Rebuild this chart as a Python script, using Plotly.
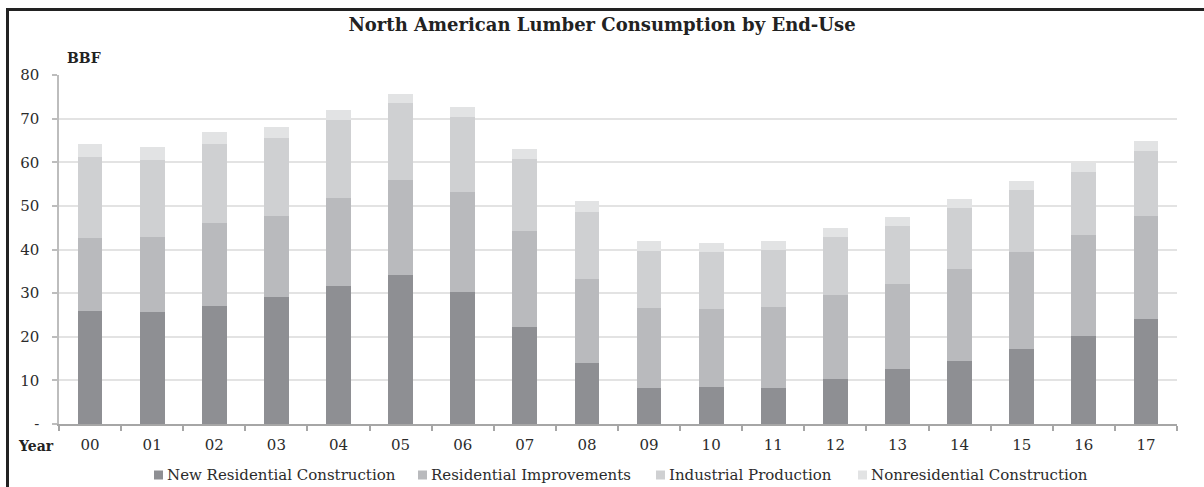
import plotly.graph_objects as go

# Lumber consumption by end-use, billion board feet (BBF)
years = ["00", "01", "02", "03", "04", "05", "06", "07", "08",
         "09", "10", "11", "12", "13", "14", "15", "16", "17"]
new_residential = [26.0, 25.7, 27.1, 29.0, 31.7, 34.2, 30.2, 22.2, 14.0,
                   8.2, 8.5, 8.2, 10.3, 12.6, 14.4, 17.2, 20.2, 24.0]
residential_improvements = [16.7, 17.2, 19.0, 18.7, 20.1, 21.7, 22.9, 22.0, 19.2,
                            18.4, 17.8, 18.6, 19.2, 19.5, 21.1, 22.2, 23.1, 23.6]
industrial_production = [18.5, 17.6, 18.1, 17.9, 17.9, 17.6, 17.2, 16.5, 15.3,
                         13.0, 13.1, 13.0, 13.3, 13.2, 14.0, 14.2, 14.4, 14.9]
nonresidential = [3.0, 3.0, 2.7, 2.5, 2.3, 2.1, 2.3, 2.3, 2.6,
                  2.3, 2.1, 2.1, 2.1, 2.1, 2.0, 2.0, 2.1, 2.3]

y_tickvals = [0, 10, 20, 30, 40, 50, 60, 70, 80]
y_ticktext = ["-", "10", "20", "30", "40", "50", "60", "70", "80"]

series_names = ["New Residential Construction", "Residential Improvements",
                "Industrial Production", "Nonresidential Construction"]
series_values = [new_residential, residential_improvements,
                 industrial_production, nonresidential]
series_colors = ["#8e8f93", "#b9babd", "#cfd0d2", "#e2e3e4"]

FONT = "DejaVu Serif"
TEXT = "#222222"
FS = 15

W, H = 1204, 487
ML, MR, MT, MB = 59, 27, 75, 63
pw, ph = W - ML - MR, H - MT - MB


def px_x(p):
    return (p - ML) / pw


def px_y(p):
    return (H - MB - p) / ph


fig = go.Figure()
for name, vals, color in zip(series_names, series_values, series_colors):
    fig.add_trace(go.Bar(
        x=years, y=vals, name=name, showlegend=False,
        marker=dict(color=color, line=dict(width=0)),
    ))

# Legend row under the axis: a small swatch followed by the series name
legend_left = [154, 418, 656, 858]
legend_mid = 475
shapes = []
annotations = []
for name, color, left in zip(series_names, series_colors, legend_left):
    shapes.append(dict(
        type="rect", xref="paper", yref="paper",
        x0=px_x(left), x1=px_x(left + 9),
        y0=px_y(legend_mid - 4.5), y1=px_y(legend_mid + 4.5),
        fillcolor=color, line=dict(width=0),
    ))
    annotations.append(dict(
        text=name, xref="paper", yref="paper",
        x=px_x(left + 11), y=px_y(legend_mid),
        xanchor="left", yanchor="middle", showarrow=False,
        font=dict(family=FONT, size=FS, color="#2b2b2b"),
    ))

annotations += [
    dict(text="<b>BBF</b>", xref="paper", yref="paper",
         x=0, y=1, xanchor="left", yanchor="middle",
         xshift=6, yshift=17, showarrow=False,
         font=dict(family=FONT, size=14, color=TEXT)),
    dict(text="<b>Year</b>", xref="paper", yref="paper",
         x=0, y=0, xanchor="right", yanchor="middle",
         xshift=-3, yshift=-22, showarrow=False,
         font=dict(family=FONT, size=14, color=TEXT)),
]

# Frame: top rule and left rule
shapes += [
    dict(type="line", xref="paper", yref="paper",
         x0=px_x(7.5), x1=px_x(W + 2), y0=px_y(9.5), y1=px_y(9.5),
         line=dict(color="#222222", width=3)),
    dict(type="line", xref="paper", yref="paper",
         x0=px_x(7.5), x1=px_x(7.5), y0=px_y(8), y1=px_y(H + 2),
         line=dict(color="#222222", width=3)),
]

fig.update_layout(
    width=W, height=H,
    margin=dict(l=ML, r=MR, t=MT, b=MB, autoexpand=False),
    barmode="stack",
    bargap=0.6,
    showlegend=False,
    paper_bgcolor="white",
    plot_bgcolor="white",
    font=dict(family=FONT, size=FS, color=TEXT),
    title=dict(
        text="<b>North American Lumber Consumption by End-Use</b>",
        font=dict(family=FONT, size=18, color=TEXT),
        x=0.5, xanchor="center", xref="container",
        y=1 - 25 / H, yanchor="middle", yref="container",
    ),
    xaxis=dict(
        type="category",
        showline=True, linecolor="#a6a6a6", linewidth=1.5,
        ticks="outside", tickson="boundaries", ticklen=5,
        tickcolor="#a6a6a6", tickwidth=1.5,
        showgrid=False,
        ticklabelstandoff=6,
        tickfont=dict(family=FONT, size=FS, color="#2b2b2b"),
    ),
    yaxis=dict(
        range=[0, 80],
        tickvals=y_tickvals, ticktext=y_ticktext,
        showline=True, linecolor="#bdbdbd", linewidth=1.5,
        ticks="outside", ticklen=5, tickcolor="#bdbdbd", tickwidth=1.5,
        showgrid=True, gridcolor="#e3e3e3", gridwidth=1.5,
        zeroline=False,
        ticklabelstandoff=10,
        tickfont=dict(family=FONT, size=FS, color="#2b2b2b"),
    ),
    annotations=annotations,
    shapes=shapes,
)

fig.write_html("out.html")
